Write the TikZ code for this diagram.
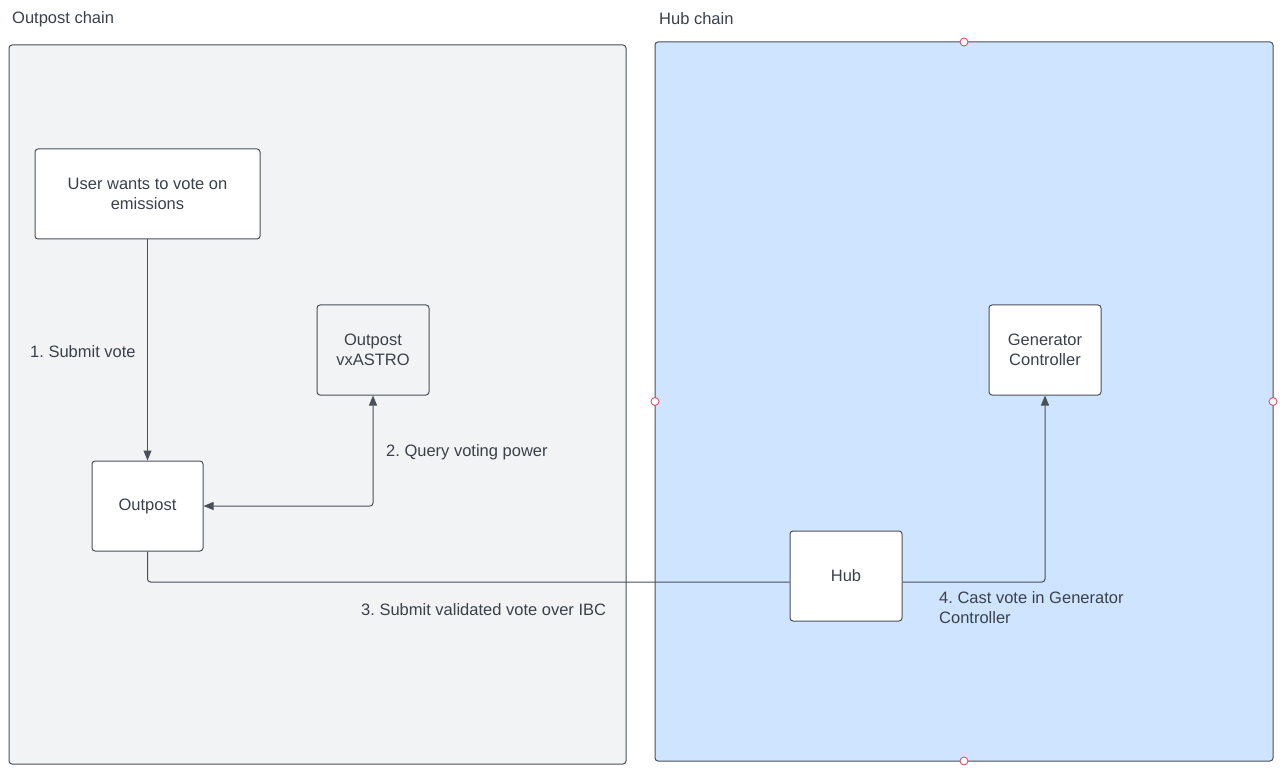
\documentclass[tikz,border=0pt]{standalone}
\usepackage{fontspec}
\setmainfont{Liberation Sans}
\usetikzlibrary{arrows.meta}
\frenchspacing
\definecolor{txt}{RGB}{58,65,74}
\definecolor{strk}{RGB}{74,80,89}
\definecolor{outbg}{RGB}{242,243,245}
\definecolor{hubbg}{RGB}{207,228,255}
\definecolor{hdl}{RGB}{232,80,100}
\tikzset{
  chain/.style={draw=strk, line width=1pt, rounded corners=3pt},
  box/.style={draw=strk, line width=1pt, rounded corners=3pt, fill=white,
    align=center, text=txt, inner sep=0pt,
    font=\fontsize{16.5}{19.5}\selectfont},
  lbl/.style={text=txt, inner sep=0pt, anchor=base west, align=left,
    font=\fontsize{16.5}{20}\selectfont},
  conn/.style={draw=strk, line width=1pt, rounded corners=3pt},
  arr/.style={conn, -{Triangle[length=10pt,width=8pt]}},
  darr/.style={conn, {Triangle[length=10pt,width=8pt]}-{Triangle[length=10pt,width=8pt]}},
  handle/.style={circle, draw=hdl, fill=white, line width=0.9pt, minimum size=8pt, inner sep=0pt},
}
\begin{document}
\begin{tikzpicture}[x=1pt,y=-1pt]
\useasboundingbox (0,0) rectangle (1286,778);
\fill[white] (0,0) rectangle (1286,778);
% containers
\draw[chain, fill=outbg] (9,45) rectangle (626,764);
\draw[chain, fill=hubbg] (655,42) rectangle (1273,761);
\node[lbl] (ttlout) at (12,24) {Outpost chain};
\node[lbl] (ttlhub) at (659,25) {Hub chain};
% boxes
\node[box, minimum width=225pt, minimum height=90pt] (user) at (147.5,194) {User wants to vote on\\emissions};
\node[box, fill=outbg, minimum width=112pt, minimum height=90pt] (vx) at (373,350) {Outpost\\vxASTRO};
\node[box, minimum width=111pt, minimum height=90pt] (outpost) at (147.5,506) {Outpost};
\node[box, minimum width=112pt, minimum height=90pt] (gen) at (1045,350) {Generator\\Controller};
\node[box, minimum width=112pt, minimum height=90pt] (hub) at (846,576) {Hub};
% connectors
\draw[arr] (user.south) -- (outpost.north);
\draw[darr] (outpost.east) -| (vx.south);
\draw[conn] (outpost.south) |- ([yshift=-6pt]hub.west);
\draw[arr] ([yshift=-6pt]hub.east) -| (gen.south);
% labels
\node[lbl] (l1) at (30,357) {1. Submit vote};
\node[lbl] (l2) at (386,456) {2. Query voting power};
\node[lbl] (l3) at (361,615) {3. Submit validated vote over IBC};
\node[lbl] (l4) at (939,623) {4. Cast vote in Generator\\Controller};
% selection handles
\node[handle] (h1) at (964,42) {};
\node[handle] (h2) at (655,401.5) {};
\node[handle] (h3) at (1273,401.5) {};
\node[handle] (h4) at (964,761) {};
\end{tikzpicture}
\end{document}
